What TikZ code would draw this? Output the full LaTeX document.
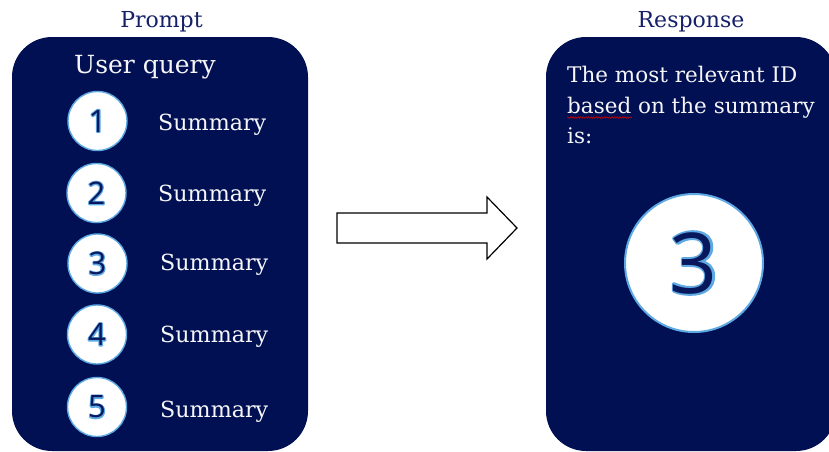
\documentclass[tikz,border=0pt]{standalone}
\usepackage{fontspec}
\setmainfont{DejaVu Serif}
\newfontfamily\digitfont{Open Sans}
\usetikzlibrary{decorations.pathmorphing}
\definecolor{navybox}{RGB}{1,16,83}
\definecolor{navytitle}{RGB}{22,32,104}
\definecolor{navydigit}{RGB}{8,24,92}
\definecolor{ringblue}{RGB}{94,168,228}
\definecolor{offwhite}{RGB}{246,246,248}
\newcommand{\outlined}[2]{\rlap{\special{pdf:literal direct q 1 Tr #1 w 1 J 1 j 0.37 0.66 0.89 RG}#2\special{pdf:literal direct Q}}#2}
\tikzset{
  panel/.style={fill=navybox, draw=none, rounded corners=40pt},
  title/.style={text=navytitle, font=\fontsize{22}{26}\selectfont, inner sep=0pt, anchor=base},
  numring/.style={circle, fill=white, draw=ringblue, line width=1.4pt, minimum size=59pt, inner sep=0pt,
    text=navydigit, font=\digitfont\fontsize{31}{36}\selectfont},
  sumtext/.style={text=offwhite, font=\fontsize{22.2}{26}\selectfont, inner sep=0pt, anchor=base west},
  resptext/.style={text=offwhite, font=\fontsize{21.5}{25}\selectfont, inner sep=0pt, anchor=base west},
  bigring/.style={circle, fill=white, draw=ringblue, line width=2pt, minimum size=138pt, inner sep=0pt,
    text=navydigit, font=\digitfont\fontsize{84}{90}\selectfont},
  bigarrow/.style={draw=black, fill=white, line width=1.2pt, line join=miter}
}
\begin{document}
\begin{tikzpicture}[x=1pt, y=-1pt]
\useasboundingbox (0,0) rectangle (829,451);
\clip (0,0) rectangle (829,451);

% titles
\node[title] (tprompt) at (161.5,27) {Prompt};
\node[title] (tresp) at (691,27) {Response};

% panels
\fill[panel] (12,37) rectangle (308,451);
\fill[panel] (546,37) rectangle (836,451);

% left panel content
\node[text=offwhite, font=\fontsize{25}{30}\selectfont, inner sep=0pt, anchor=base west] (uq) at (74,73) {User query};

\node[numring] (c1) at (97.5,121) {\outlined{2.2}{1}};
\node[numring] (c2) at (96.5,193) {\outlined{2.2}{2}};
\node[numring] (c3) at (97.5,263.5) {\outlined{2.2}{3}};
\node[numring] (c4) at (97,334.5) {\outlined{2.2}{4}};
\node[numring] (c5) at (97,407) {\outlined{2.2}{5}};

\node[sumtext] (s1) at (158,130) {Summary};
\node[sumtext] (s2) at (158,201.5) {Summary};
\node[sumtext] (s3) at (160,270) {Summary};
\node[sumtext] (s4) at (160,342.5) {Summary};
\node[sumtext] (s5) at (160,417) {Summary};

% arrow
\draw[bigarrow] (337,213) -- (487,213) -- (487,197) -- (517,228) -- (487,259) -- (487,243) -- (337,243) -- cycle;

% right panel content
\node[resptext] (r1) at (567,82) {The most relevant ID};
\node[resptext] (r2) at (567,113) {based on the summary};
\node[resptext] (r3) at (567,143) {is:};
\coordinate (w1) at ([yshift=-4.5pt]r2.base west);
\coordinate (w2) at ([xshift=65pt, yshift=-4.5pt]r2.base west);
\draw[red!80!black, line width=0.6pt, decorate, decoration={snake, amplitude=0.8pt, segment length=2.6pt}] (w1) -- (w2);

\node[bigring] (big) at (694,263) {\outlined{4}{3}};
\end{tikzpicture}
\end{document}
